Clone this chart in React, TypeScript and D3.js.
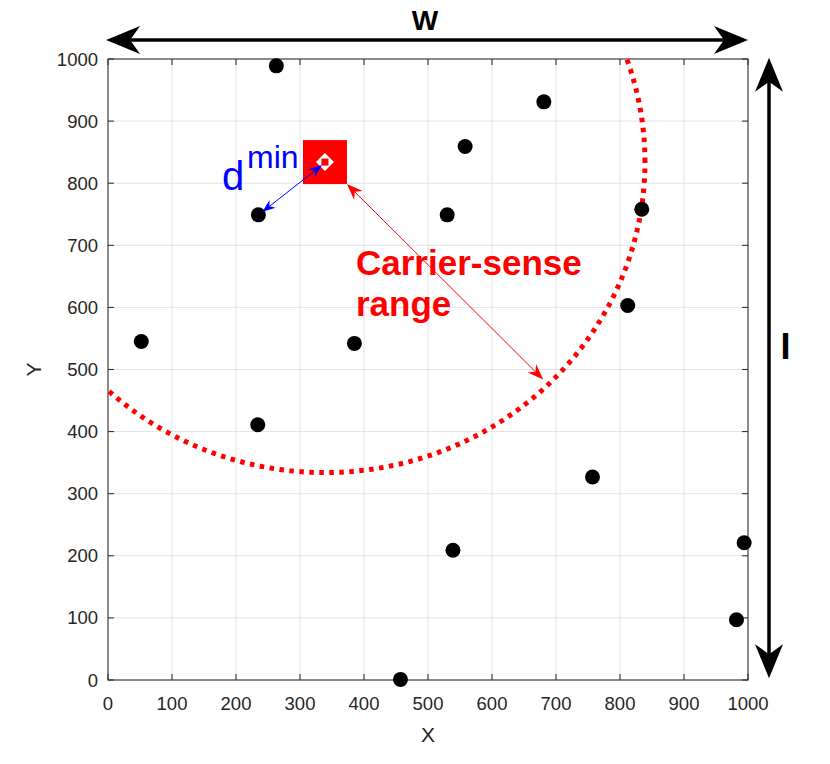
import React from "react";
import * as d3 from "d3";

const W = 830, H = 764;
const xTicks = [0, 100, 200, 300, 400, 500, 600, 700, 800, 900, 1000];
const yTicks = [0, 100, 200, 300, 400, 500, 600, 700, 800, 900, 1000];
const nodeX = [263, 681, 558, 834, 235, 530, 812, 52, 385, 234, 757, 539, 994, 982, 457];
const nodeY = [989, 931, 859, 758, 749, 749, 603, 545, 542, 411, 327, 209, 221, 97, 1];
const apX = 339;
const apY = 834;
const csRange = 500;
const nearestX = 235;
const nearestY = 749;
const rangeArrowEnd = [680, 484];

const FONT = "'Liberation Sans', Arial, Helvetica, sans-serif";

function arrowHead(tipX: number, tipY: number, dirX: number, dirY: number, len: number, half: number, notch: number) {
  const n = Math.hypot(dirX, dirY);
  const ux = dirX / n, uy = dirY / n;
  const px = -uy, py = ux;
  const bx = tipX - ux * len, by = tipY - uy * len;
  const nx = tipX - ux * notch, ny = tipY - uy * notch;
  return `M${tipX},${tipY}L${bx + px * half},${by + py * half}L${nx},${ny}L${bx - px * half},${by - py * half}Z`;
}

function DoubleArrow({ x1, y1, x2, y2, color, width, len, half, notch }: any) {
  const dx = x2 - x1, dy = y2 - y1;
  const n = Math.hypot(dx, dy);
  const ux = dx / n, uy = dy / n;
  return (
    <g>
      <line x1={x1 + ux * notch} y1={y1 + uy * notch} x2={x2 - ux * notch} y2={y2 - uy * notch} stroke={color} strokeWidth={width} />
      <path d={arrowHead(x2, y2, dx, dy, len, half, notch)} fill={color} />
      <path d={arrowHead(x1, y1, -dx, -dy, len, half, notch)} fill={color} />
    </g>
  );
}

export default function App() {
  const x = d3.scaleLinear().domain([0, 1000]).range([108, 748]);
  const y = d3.scaleLinear().domain([0, 1000]).range([680, 59]);
  const pts = d3.range(0, 721).map((i) => {
    const a = (i / 720) * 2 * Math.PI;
    return [apX + csRange * Math.cos(a), apY + csRange * Math.sin(a)];
  });
  const circ = d3.line().x((d: any) => x(d[0])).y((d: any) => y(d[1]))(pts as any) as string;
  const axColor = "#262626";
  const cx = x(apX), cy = y(apY);
  return (
    <svg width={W} height={H} style={{ display: "block", position: "absolute", left: 0, top: 0 }} fontFamily={FONT}>
      <rect width={W} height={H} fill="#fff" />
      <defs>
        <clipPath id="ax">
          <rect x={x(0)} y={y(1000)} width={x(1000) - x(0)} height={y(0) - y(1000)} />
        </clipPath>
      </defs>
      {/* grid */}
      {xTicks.map((t) => (
        <line key={"gx" + t} x1={x(t)} x2={x(t)} y1={y(0)} y2={y(1000)} stroke="#e3e3e3" strokeWidth={1} />
      ))}
      {yTicks.map((t) => (
        <line key={"gy" + t} y1={y(t)} y2={y(t)} x1={x(0)} x2={x(1000)} stroke="#e3e3e3" strokeWidth={1} />
      ))}
      {/* ticks */}
      {xTicks.map((t) => (
        <g key={"tx" + t}>
          <line x1={x(t)} x2={x(t)} y1={y(0)} y2={y(0) - 6} stroke={axColor} />
          <line x1={x(t)} x2={x(t)} y1={y(1000)} y2={y(1000) + 6} stroke={axColor} />
          <text x={x(t)} y={y(0) + 30} textAnchor="middle" fontSize={18.5} fill={axColor}>{t}</text>
        </g>
      ))}
      {yTicks.map((t) => (
        <g key={"ty" + t}>
          <line x1={x(0)} x2={x(0) + 6} y1={y(t)} y2={y(t)} stroke={axColor} />
          <line x1={x(1000)} x2={x(1000) - 6} y1={y(t)} y2={y(t)} stroke={axColor} />
          <text x={x(0) - 10} y={y(t) + 6.5} textAnchor="end" fontSize={18.5} fill={axColor}>{t}</text>
        </g>
      ))}
      <rect x={x(0)} y={y(1000)} width={x(1000) - x(0)} height={y(0) - y(1000)} fill="none" stroke={axColor} strokeWidth={1} />
      <text x={(x(0) + x(1000)) / 2} y={742} textAnchor="middle" fontSize={21} fill={axColor}>X</text>
      <text transform={`translate(41,${(y(0) + y(1000)) / 2}) rotate(-90)`} textAnchor="middle" fontSize={21} fill={axColor}>Y</text>

      {/* carrier sense circle */}
      <g clipPath="url(#ax)">
        <path d={circ} fill="none" stroke="#ff0000" strokeWidth={5} strokeDasharray="4.5 5.5" />
      </g>

      {/* nodes */}
      {nodeX.map((v, i) => (
        <circle key={"n" + i} cx={x(v)} cy={y(nodeY[i])} r={7.5} fill="#000" />
      ))}

      {/* AP */}
      <rect x={cx - 22} y={cy - 22} width={44} height={44} fill="#ff0000" />
      <path d={`M${cx},${cy - 9}L${cx + 9},${cy}L${cx},${cy + 9}L${cx - 9},${cy}Z`} fill="#fff" />
      <rect x={cx - 3.5} y={cy - 3.5} width={7} height={7} fill="#ff0000" />

      {/* dmin arrow */}
      <DoubleArrow x1={cx - 3} y1={cy + 3} x2={x(nearestX) + 4} y2={y(nearestY) - 3} color="#0000ff" width={1} len={13} half={5} notch={9} />
      <text x={222} y={190} fontSize={40} fill="#0000ff">d</text>
      <text x={247} y={168} fontSize={32} fill="#0000ff">min</text>

      {/* range arrow */}
      <DoubleArrow x1={cx + 22} y1={cy + 22} x2={x(rangeArrowEnd[0])} y2={y(rangeArrowEnd[1])} color="#ff0000" width={1} len={16} half={6} notch={11} />
      <text x={356} y={275} fontSize={35} fontWeight="bold" fill="#ff0000">Carrier-sense</text>
      <text x={356} y={316} fontSize={35} fontWeight="bold" fill="#ff0000">range</text>

      {/* W arrow */}
      <DoubleArrow x1={x(-3)} y1={40} x2={x(1000)} y2={40} color="#000" width={3.5} len={34} half={14} notch={24} />
      <text x={425} y={30} textAnchor="middle" fontSize={28} fontWeight="bold" fill="#000">W</text>

      {/* I arrow */}
      <DoubleArrow x1={769} y1={y(1002)} x2={769} y2={y(3)} color="#000" width={3.5} len={34} half={14} notch={24} />
      <text x={785.5} y={359} textAnchor="middle" fontSize={36} fontWeight="bold" fill="#000">I</text>
    </svg>
  );
}
